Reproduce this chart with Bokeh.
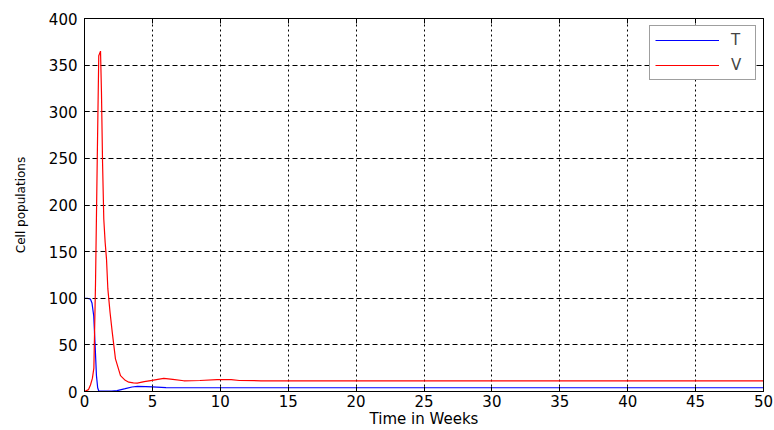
from bokeh.plotting import figure
from bokeh.models import LinearAxis, Range1d, FixedTicker, Legend, LegendItem
from bokeh.embed import file_html
from bokeh.resources import INLINE

# Time axis (weeks) and cell populations for each series
t_T = [0, 0.2, 0.44, 0.55, 0.68, 0.78, 0.88, 0.97, 1.05, 1.5, 2.0, 2.4, 3.0, 3.5,
       3.9, 4.5, 5.0, 6.0, 8, 50]
T_vals = [100, 100, 99, 95, 81, 50, 17, 4, 0.5, 0.3, 0.5, 1, 3, 4.8,
          5.5, 5.3, 5, 4.2, 4, 4]

t_V = [0, 0.29, 0.44, 0.58, 0.69, 0.81, 0.94, 1.05, 1.18, 1.25, 1.33, 1.42, 1.52,
       1.62, 1.72, 1.88, 2.04, 2.28, 2.65, 3.0, 3.26, 3.6, 3.88, 4.4, 4.99, 5.4,
       5.84, 6.5, 7.31, 8.5, 9.77, 10.8, 11.4, 13, 20, 30, 40, 50]
V_vals = [0, 2, 7, 14, 25, 115, 250, 360, 365, 320, 245, 185, 160,
          142, 110, 85, 64, 35, 17, 12, 10, 9.2, 9, 10.5, 12, 13,
          14, 13, 11.5, 11.8, 12.8, 12.8, 11.8, 11.5, 11.4, 11.4, 11.4, 11.4]

x_ticks = [0, 5, 10, 15, 20, 25, 30, 35, 40, 45, 50]
y_ticks = [0, 50, 100, 150, 200, 250, 300, 350, 400]

FONT = "DejaVu Sans"

p = figure(width=774, height=430, output_backend="svg", toolbar_location=None,
           x_range=Range1d(0, 50), y_range=Range1d(0, 400),
           min_border_left=84, min_border_right=11, min_border_top=18,
           min_border_bottom=37)
p.background_fill_color = "white"
p.border_fill_color = "white"
p.outline_line_color = "black"
p.outline_line_width = 1

for ax in (p.xaxis[0], p.yaxis[0]):
    ax.major_tick_in = 5
    ax.major_tick_out = 0
    ax.minor_tick_in = 0
    ax.minor_tick_out = 0
    ax.axis_line_color = "black"
    ax.major_label_text_font = FONT
    ax.major_label_text_font_size = "15px"
    ax.major_label_text_color = "black"
    ax.axis_label_text_font = FONT
    ax.axis_label_text_font_style = "normal"
    ax.axis_label_text_color = "black"

p.xaxis.ticker = FixedTicker(ticks=x_ticks)
p.yaxis.ticker = FixedTicker(ticks=y_ticks)
p.xaxis.axis_label = "Time in Weeks"
p.xaxis.axis_label_text_font_size = "15px"
p.xaxis.major_label_standoff = 3
p.xaxis.axis_label_standoff = 0
p.yaxis.axis_label = "Cell populations"
p.yaxis.axis_label_text_font_size = "12px"
p.yaxis.major_label_standoff = 7
p.yaxis.axis_label_standoff = 18

# Mirror ticks on the top and right edges, without labels
top = LinearAxis(ticker=FixedTicker(ticks=x_ticks), major_tick_in=5, major_tick_out=0,
                 minor_tick_in=0, minor_tick_out=0, major_label_standoff=0,
                 major_label_overrides={t: "" for t in x_ticks})
right = LinearAxis(ticker=FixedTicker(ticks=y_ticks), major_tick_in=5, major_tick_out=0,
                   minor_tick_in=0, minor_tick_out=0, major_label_standoff=0,
                   major_label_overrides={t: "" for t in y_ticks})
p.add_layout(top, "above")
p.add_layout(right, "right")

p.xgrid.ticker = FixedTicker(ticks=x_ticks)
p.ygrid.ticker = FixedTicker(ticks=y_ticks)
p.xgrid.grid_line_color = "black"
p.xgrid.grid_line_dash = "2 3"
p.ygrid.grid_line_color = "black"
p.ygrid.grid_line_dash = "5 3"

r_T = p.line(t_T, T_vals, line_color="#0000ff", line_width=1.2)
r_V = p.line(t_V, V_vals, line_color="#ff0000", line_width=1.2)

legend = Legend(items=[LegendItem(label="T", renderers=[r_T]),
                       LegendItem(label="V", renderers=[r_V])],
                location="top_right", margin=7, padding=5, spacing=7,
                glyph_width=64, glyph_height=14, label_height=14,
                label_standoff=12, label_width=19,
                label_text_font=FONT, label_text_font_size="15px",
                border_line_color="#404040", border_line_width=1,
                background_fill_color="white", background_fill_alpha=1)
p.add_layout(legend, "center")

open("out.html", "w").write(file_html(p, INLINE))
